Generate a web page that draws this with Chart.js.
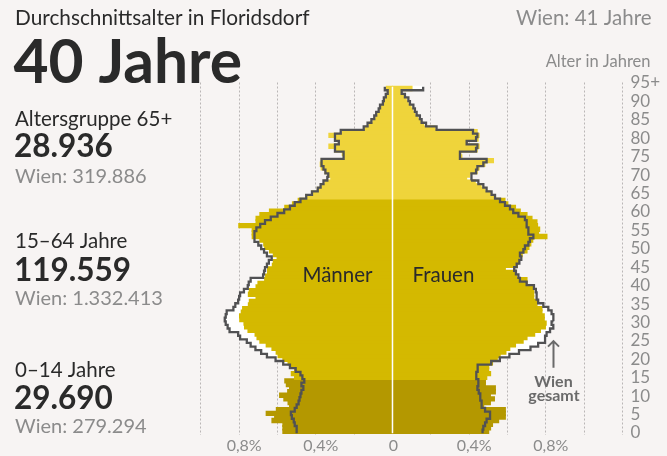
<!DOCTYPE html>
<html><head><meta charset="utf-8">
<script src="https://cdn.jsdelivr.net/npm/chart.js@4.4.0/dist/chart.umd.min.js"></script>
<style>html,body{margin:0;padding:0;background:#f7f4f3;}canvas{display:block;}</style>
</head><body>
<canvas id="c" width="667" height="456"></canvas>
<script>
// Age rows (95 = 95+)
const ages = [0,1,2,3,4,5,6,7,8,9,10,11,12,13,14,15,16,17,18,19,20,21,22,23,24,25,26,27,28,29,30,31,32,33,34,35,36,37,38,39,40,41,42,43,44,45,46,47,48,49,50,51,52,53,54,55,56,57,58,59,60,61,62,63,64,65,66,67,68,69,70,71,72,73,74,75,76,77,78,79,80,81,82,83,84,85,86,87,88,89,90,91,92,93,94,95];

// Floridsdorf, share of population in % (age 0 ... 95+)
const florM = [0.57,0.57,0.57,0.627,0.613,0.657,0.604,0.535,0.543,0.565,
  0.587,0.545,0.535,0.552,0.56,0.509,0.526,0.509,0.526,0.543,
  0.57,0.595,0.605,0.627,0.657,0.69,0.705,0.715,0.752,0.77,
  0.773,0.795,0.796,0.787,0.78,0.75,0.745,0.71,0.75,0.745,
  0.71,0.70,0.665,0.66,0.65,0.65,0.625,0.62,0.60,0.62,
  0.64,0.665,0.67,0.69,0.73,0.73,0.73,0.80,0.71,0.71,
  0.69,0.64,0.56,0.52,0.49,0.45,0.42,0.39,0.37,0.35,
  0.32,0.33,0.35,0.37,0.375,0.37,0.25,0.26,0.30,0.33,
  0.28,0.29,0.33,0.26,0.14,0.12,0.10,0.085,0.075,0.065,
  0.055,0.045,0.035,0.03,0.02,0.03];
const florF = [0.50,0.51,0.52,0.552,0.587,0.587,0.587,0.474,0.509,0.53,
  0.509,0.535,0.535,0.483,0.483,0.49,0.51,0.50,0.50,0.52,
  0.545,0.56,0.59,0.61,0.64,0.68,0.70,0.74,0.77,0.796,
  0.80,0.79,0.79,0.778,0.778,0.752,0.752,0.735,0.735,0.735,
  0.735,0.70,0.70,0.645,0.64,0.587,0.65,0.655,0.66,0.675,
  0.70,0.71,0.72,0.73,0.804,0.76,0.766,0.755,0.752,0.726,
  0.70,0.665,0.64,0.60,0.585,0.53,0.51,0.48,0.46,0.43,
  0.385,0.40,0.44,0.45,0.48,0.525,0.36,0.355,0.44,0.45,
  0.39,0.445,0.45,0.44,0.22,0.16,0.145,0.13,0.115,0.105,
  0.095,0.08,0.07,0.055,0.04,0.10];
// Wien gesamt, share in %
const wienM = [0.50,0.50,0.51,0.515,0.525,0.53,0.51,0.50,0.49,0.485,
  0.48,0.475,0.465,0.475,0.46,0.47,0.48,0.505,0.535,0.57,
  0.61,0.655,0.685,0.715,0.74,0.76,0.795,0.805,0.85,0.86,
  0.87,0.875,0.87,0.865,0.83,0.82,0.805,0.80,0.795,0.775,
  0.755,0.75,0.74,0.675,0.67,0.665,0.655,0.645,0.63,0.655,
  0.67,0.685,0.70,0.72,0.72,0.72,0.71,0.69,0.665,0.635,
  0.60,0.565,0.535,0.51,0.48,0.45,0.42,0.39,0.375,0.36,
  0.34,0.335,0.35,0.36,0.37,0.37,0.255,0.255,0.30,0.30,
  0.28,0.30,0.30,0.27,0.15,0.13,0.11,0.095,0.085,0.072,
  0.065,0.05,0.045,0.035,0.025,0.04];
const wienF = [0.47,0.474,0.483,0.491,0.509,0.509,0.483,0.465,0.465,0.46,
  0.457,0.45,0.443,0.448,0.448,0.44,0.436,0.443,0.445,0.515,
  0.56,0.61,0.66,0.72,0.76,0.796,0.796,0.804,0.822,0.839,
  0.83,0.84,0.839,0.83,0.813,0.787,0.76,0.752,0.752,0.748,
  0.738,0.70,0.665,0.657,0.644,0.635,0.648,0.662,0.672,0.665,
  0.683,0.691,0.709,0.717,0.735,0.709,0.709,0.70,0.70,0.691,
  0.657,0.63,0.613,0.587,0.561,0.535,0.517,0.491,0.474,0.448,
  0.41,0.413,0.436,0.443,0.474,0.491,0.352,0.352,0.436,0.443,
  0.387,0.436,0.443,0.42,0.23,0.175,0.152,0.143,0.126,0.117,
  0.109,0.091,0.083,0.065,0.048,0.16];

// Tick labels
const ageTickValues = [0,5,10,15,20,25,30,35,40,45,50,55,60,65,70,75,80,85,90,95];
const ageTickLabels = ['0','5','10','15','20','25','30','35','40','45','50','55','60','65','70','75','80','85','90','95+'];
const gridValues = [-1,-0.8,-0.6,-0.4,-0.2,0,0.2,0.4,0.6,0.8,1,1.2];
const xTickValues = [-0.8,-0.4,0,0.4,0.8];
const xTickLabels = ['0,8%','0,4%','0','0,4%','0,8%'];

// Texts
const titleText = 'Durchschnittsalter in Floridsdorf';
const avgText = '40 Jahre';
const avgWienText = 'Wien: 41 Jahre';
const axisTitle = 'Alter in Jahren';
const groupLabels = ['Altersgruppe 65+','15–64 Jahre','0–14 Jahre'];
const groupValues = ['28.936','119.559','29.690'];
const groupWien = ['Wien: 319.886','Wien: 1.332.413','Wien: 279.294'];
const sexLabels = ['Männer','Frauen'];
const wienNote = ['Wien','gesamt'];

const LIGHT = '#efd43b', MID = '#d4b900', DARK = '#b49800';
const DARKTXT = '#2a2a2a', GRAY = '#8b8b8b';
const barColors = ages.map(a => a >= 65 ? LIGHT : (a >= 15 ? MID : DARK));

const toBars = (vals, sign) => vals.map((v, i) => ({x: sign * v, y: ages[i]}));
const toOutline = (vals, sign) => {
  const pts = [];
  vals.forEach((v, i) => { pts.push({x: sign * v, y: ages[i] - 0.5}); pts.push({x: sign * v, y: ages[i] + 0.5}); });
  return pts;
};

const barCommon = {type: 'bar', grouped: false, barPercentage: 1, categoryPercentage: 1, inflateAmount: 0.9,
  xAxisID: 'x', yAxisID: 'y', borderWidth: 0};
const lineCommon = {type: 'line', indexAxis: 'y', xAxisID: 'x', yAxisID: 'y', borderColor: '#515153', borderWidth: 2.3,
  pointRadius: 0, tension: 0, fill: false, borderJoinStyle: 'miter', order: 1};

function txt(ctx, s, x, y, size, weight, color, align) {
  ctx.font = weight + ' ' + size + 'px Lato';
  ctx.fillStyle = color;
  ctx.textAlign = align || 'left';
  ctx.textBaseline = 'alphabetic';
  ctx.fillText(s, x, y);
}

const centerLine = {
  id: 'centerLine',
  afterDatasetsDraw(chart) {
    const {ctx, scales: {x, y}} = chart;
    const px = x.getPixelForValue(0);
    ctx.save();
    ctx.strokeStyle = '#ffffff';
    ctx.lineWidth = 1.5;
    ctx.beginPath();
    ctx.moveTo(px, y.getPixelForValue(95.5));
    ctx.lineTo(px, y.getPixelForValue(-0.5));
    ctx.stroke();
    ctx.restore();
  }
};

const annotations = {
  id: 'annotations',
  afterDraw(chart) {
    const {ctx, scales: {x, y}} = chart;
    ctx.save();
    txt(ctx, titleText, 15, 25, 20.8, '400', DARKTXT);
    txt(ctx, avgWienText, 651.5, 25, 20.5, '400', GRAY, 'right');
    txt(ctx, avgText, 13.5, 83.3, 60.5, '700', DARKTXT);
    txt(ctx, axisTitle, 650.5, 66.7, 16.5, '400', GRAY, 'right');
    const lb = [126, 248, 377], nb = [156.7, 281.3, 409], wb = [182.7, 305.3, 433];
    for (let i = 0; i < 3; i++) {
      txt(ctx, groupLabels[i], 15, lb[i], 20.5, '400', DARKTXT);
      txt(ctx, groupValues[i], 14, nb[i], 31.5, '700', DARKTXT);
      txt(ctx, groupWien[i], 15, wb[i], 20, '400', GRAY);
    }
    const cx = x.getPixelForValue(0);
    const ly = y.getPixelForValue(43) + 6;
    txt(ctx, sexLabels[0], cx - 20, ly, 20.5, '400', DARKTXT, 'right');
    txt(ctx, sexLabels[1], cx + 20, ly, 20.5, '400', DARKTXT, 'left');
    // Wien gesamt arrow
    const ax = x.getPixelForValue(0.84);
    const ay0 = y.getPixelForValue(25), ay1 = y.getPixelForValue(17.6);
    ctx.strokeStyle = '#6a6a6a';
    ctx.lineWidth = 2;
    ctx.beginPath();
    ctx.moveTo(ax, ay0); ctx.lineTo(ax, ay1);
    ctx.moveTo(ax - 5.5, ay0 + 5.5); ctx.lineTo(ax, ay0); ctx.lineTo(ax + 5.5, ay0 + 5.5);
    ctx.stroke();
    txt(ctx, wienNote[0], ax, ay1 + 19.5, 16, '700', '#6a6a6a', 'center');
    txt(ctx, wienNote[1], ax + 0.5, ay1 + 33, 16, '700', '#6a6a6a', 'center');
    ctx.restore();
  }
};

Chart.defaults.font.family = 'Lato, "Noto Sans", sans-serif';

new Chart(document.getElementById('c'), {
  type: 'bar',
  data: {
    datasets: [
      Object.assign({}, barCommon, {label: 'Wien Männer', data: toBars(wienM, -1), backgroundColor: '#ffffff', order: 3}),
      Object.assign({}, barCommon, {label: 'Wien Frauen', data: toBars(wienF, 1), backgroundColor: '#ffffff', order: 3}),
      Object.assign({}, barCommon, {label: 'Männer', data: toBars(florM, -1), backgroundColor: barColors, order: 2}),
      Object.assign({}, barCommon, {label: 'Frauen', data: toBars(florF, 1), backgroundColor: barColors, order: 2}),
      Object.assign({}, lineCommon, {label: 'Wien gesamt Männer', data: toOutline(wienM, -1)}),
      Object.assign({}, lineCommon, {label: 'Wien gesamt Frauen', data: toOutline(wienF, 1)})
    ]
  },
  options: {
    indexAxis: 'y',
    responsive: false,
    animation: false,
    events: [],
    layout: {padding: {left: 200.8, top: 82.5, right: 0, bottom: 0}},
    plugins: {legend: {display: false}, tooltip: {enabled: false}},
    scales: {
      x: {
        type: 'linear', position: 'bottom', min: -1, max: 1.2, offset: false,
        afterBuildTicks: s => { s.ticks = gridValues.map(v => ({value: v})); },
        afterFit: s => { s.height = 21.5; },
        grid: {drawTicks: false, offset: false, lineWidth: 1, color: c => (c.tick && Math.abs(c.tick.value) < 1e-9) ? 'rgba(0,0,0,0)' : '#bab6b6'},
        border: {display: false, dash: [2, 2]},
        ticks: {
          autoSkip: false, maxRotation: 0, padding: 2, labelOffset: 5, color: GRAY, font: {size: 16},
          callback: v => {
            const j = xTickValues.findIndex(t => Math.abs(t - v) < 1e-9);
            if (j < 0) return '';
            return xTickValues[j] === 0 ? xTickLabels[j] + '\u2002' : xTickLabels[j];
          }
        }
      },
      y: {
        type: 'linear', display: false, offset: false, grid: {offset: false}, min: -0.859, max: 96.648
      },
      yl: {
        type: 'linear', position: 'right', offset: false, min: -0.407, max: 95.136,
        afterBuildTicks: s => { s.ticks = ageTickValues.map(v => ({value: v})); },
        afterFit: s => { s.width = 44.5; },
        grid: {display: false, drawTicks: false, offset: false},
        border: {display: false},
        ticks: {
          autoSkip: false, padding: 8, color: GRAY, font: {size: 17},
          callback: v => { const j = ageTickValues.indexOf(v); return j < 0 ? '' : ageTickLabels[j]; }
        }
      }
    }
  },
  plugins: [centerLine, annotations]
});
</script>
</body></html>
